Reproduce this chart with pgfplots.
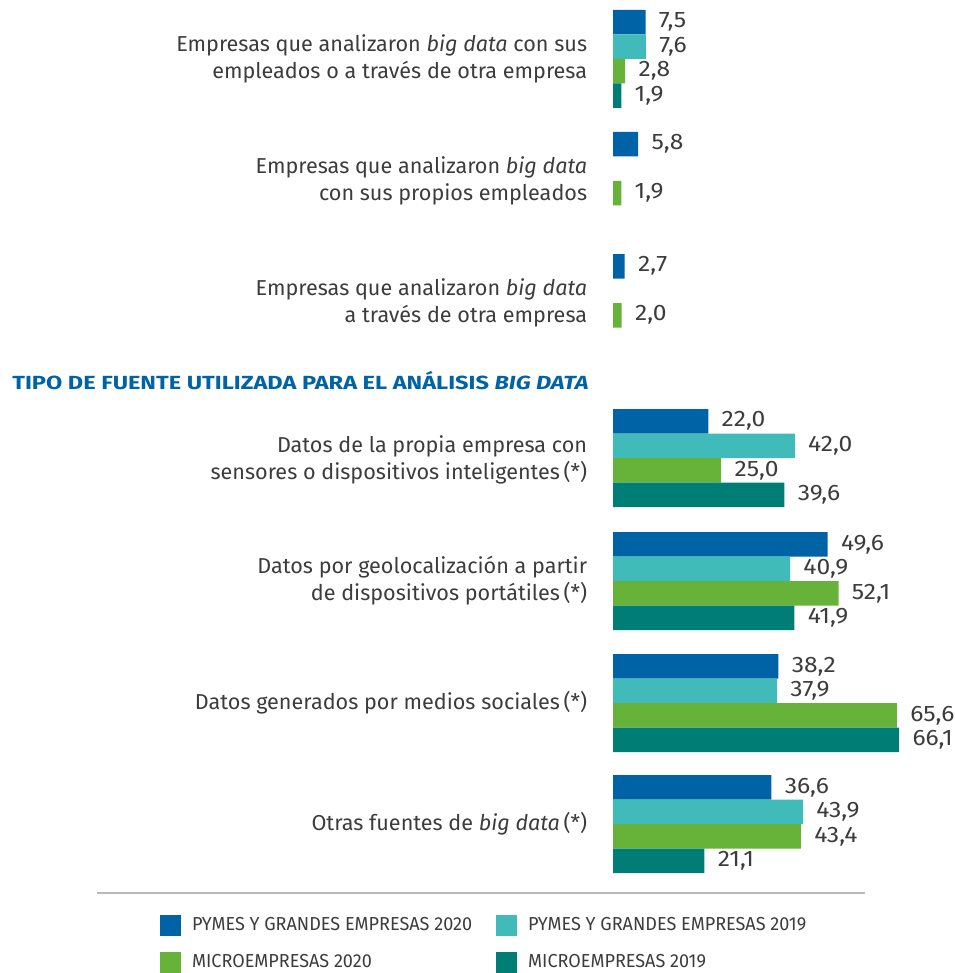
\documentclass[border=0pt]{standalone}
\usepackage{fontspec}
\setmainfont{Fira Sans}
\newfontfamily\legfont[FakeStretch=0.96]{Fira Sans}
\newfontfamily\ttlfont[FakeStretch=1.24]{Fira Sans}
\newfontfamily\numfont[FakeStretch=1.1]{Fira Sans}
\usepackage{pgfplots}
\pgfplotsset{compat=1.18}

\definecolor{cPyme20}{RGB}{0,99,166}
\definecolor{cPyme19}{RGB}{64,187,185}
\definecolor{cMicro20}{RGB}{103,178,57}
\definecolor{cMicro19}{RGB}{0,125,116}
\definecolor{txt}{RGB}{60,60,60}
\definecolor{ttl}{RGB}{0,99,166}

\begin{document}
\begin{tikzpicture}
\begin{axis}[
    width=170.5pt, height=486.5pt, scale only axis,
    xmin=0, xmax=78.8, ymin=0, ymax=973, y dir=reverse,
    clip=false,
    xbar, bar width=24.5, bar shift=0pt,
    axis line style={draw=none}, tick style={draw=none},
    xtick=\empty,
    ytick={59,181,303,459.5,581,703,824},
    yticklabels={
      {Empresas que analizaron \textit{big data} con sus\\empleados o a través de otra empresa},
      {Empresas que analizaron \textit{big data}\\con sus propios empleados},
      {Empresas que analizaron \textit{big data}\\a través de otra empresa},
      {Datos de la propia empresa con\\sensores o dispositivos inteligentes\,(*)},
      {Datos por geolocalización a partir\\de dispositivos portátiles\,(*)},
      {Datos generados por medios sociales\,(*)},
      {Otras fuentes de \textit{big data}\,(*)}},
    yticklabel style={align=right, anchor=east, inner sep=0pt, xshift=-8.5pt,
      text=txt, font=\fontsize{10.8}{13.5}\selectfont},
    /pgf/number format/assume math mode=true,
    nodes near coords={\pgfmathprintnumber[fixed,fixed zerofill,precision=1,use comma]{\pgfplotspointmeta}},
    every node near coord/.append style={anchor=west, inner sep=0pt, xshift=6.5pt,
      text=txt, font=\numfont\fontsize{11.2}{13}\selectfont},
    legend columns=2,
    legend cell align=left,
    legend image code/.code={\fill[#1] (0pt,-5.25pt) rectangle (10.5pt,5.25pt);},
    legend style={draw=none, fill=none, inner sep=0pt, outer sep=0pt,
      nodes={inner sep=0pt},
      at={(axis description cs:-1.3284,0.0596)}, anchor=north west,
      font=\legfont\fontsize{9.4}{11}\selectfont, text=txt,
      row sep=8pt,
      /tikz/every odd column/.append style={column sep=5.5pt},
      /tikz/every even column/.append style={column sep=12pt}},
  ]
\addplot[fill=cPyme20, draw=none] coordinates {
  (7.5,22.25) (5.8,144.25) (2.7,266.25)
  (22.0,421.25) (49.6,544.25) (38.2,666.25) (36.6,787.25)};
\addplot[fill=cPyme19, draw=none] coordinates {
  (7.6,46.75)
  (42.0,445.75) (40.9,568.75) (37.9,690.75) (43.9,811.75)};
\addplot[fill=cMicro20, draw=none] coordinates {
  (2.8,71.25) (1.9,193.25) (2.0,315.25)
  (25.0,470.25) (52.1,593.25) (65.6,715.25) (43.4,836.25)};
\addplot[fill=cMicro19, draw=none] coordinates {
  (1.9,95.75)
  (39.6,494.75) (41.9,617.75) (66.1,739.75) (21.1,860.75)};
\legend{PYMES Y GRANDES EMPRESAS 2020, PYMES Y GRANDES EMPRESAS 2019,
  MICROEMPRESAS 2020, MICROEMPRESAS 2019}

\node[anchor=west, inner sep=0pt, text=ttl,
  font=\ttlfont\bfseries\fontsize{9.5}{12}\selectfont]
  at (axis cs:-138.9,381) {TIPO DE FUENTE UTILIZADA PARA EL ANÁLISIS \textit{BIG DATA}};
\draw[gray!55, line width=1pt] (axis cs:-119.25,893) -- (axis cs:58.24,893);
\coordinate (bbSW) at (axis cs:-141.67,973);
\coordinate (bbNE) at (axis cs:78.8,0);
\end{axis}
\pgfresetboundingbox
\useasboundingbox (bbSW) rectangle (bbNE);
\end{tikzpicture}
\end{document}
